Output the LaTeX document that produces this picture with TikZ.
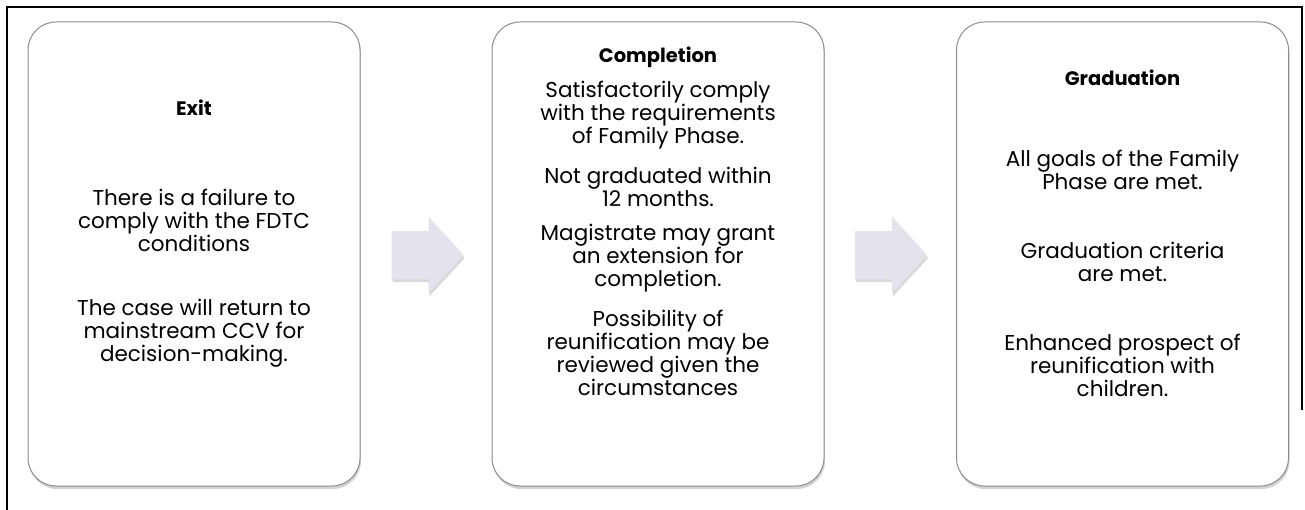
\documentclass[tikz,border=0pt]{standalone}
\usepackage{fontspec}
\setmainfont{Poppins}
\usetikzlibrary{shapes.arrows,shadows}

\definecolor{boxline}{HTML}{8C8C8C}
\definecolor{arrowfill}{HTML}{E4E2EC}

\begin{document}
\begin{tikzpicture}[x=1pt,y=-1pt,
  phasebox/.style={draw=boxline,line width=1pt,fill=white,rounded corners=28pt,
    minimum width=332pt,minimum height=464pt,inner sep=0pt,
    drop shadow={shadow xshift=1pt,shadow yshift=-3pt,opacity=0.35}},
  phasetitle/.style={font=\fontsize{19.5}{22}\selectfont\bfseries},
  phasetext/.style={font=\fontsize{21.5}{23}\selectfont,align=center},
  steparrow/.style={single arrow,fill=arrowfill,draw=none,inner xsep=0pt,
    inner ysep=24pt,minimum height=72pt,single arrow head extend=14pt,
    single arrow tip angle=95,
    drop shadow={shadow xshift=1pt,shadow yshift=-3pt,opacity=0.3}}]
\useasboundingbox (0,0) rectangle (1305,510);
\draw[line width=2pt] (7,510) -- (7,7) -- (1302,7) -- (1302,410);

\node[phasebox] (exit) at (194,254) {};
\node[phasebox] (completion) at (658,254) {};
\node[phasebox] (graduation) at (1122.5,254) {};

\node[steparrow] (arrowA) at (416.5,255) {};
\node[steparrow] (arrowB) at (880,255) {};

% Exit
\node[phasetitle] (exitT) at (194,108) {Exit};
\node[phasetext] (exitA) at (194,220) {There is a failure to\\comply with the FDTC\\conditions};
\node[phasetext] (exitB) at (194,333) {The case will return to\\mainstream CCV for\\decision-making.};

% Completion
\node[phasetitle] (complT) at (658,57) {Completion};
\node[phasetext] (complA) at (658,115) {Satisfactorily comply\\with the requirements\\of Family Phase.};
\node[phasetext] (complB) at (658,186.5) {Not graduated within\\12 months.};
\node[phasetext] (complC) at (658,258) {Magistrate may grant\\an extension for\\completion.};
\node[phasetext] (complD) at (658,352.5) {Possibility of\\reunification may be\\reviewed given the\\circumstances};

% Graduation
\node[phasetitle] (gradT) at (1122.5,78) {Graduation};
\node[phasetext] (gradA) at (1122.5,169.5) {All goals of the Family\\Phase are met.};
\node[phasetext] (gradB) at (1122.5,261.5) {Graduation criteria\\are met.};
\node[phasetext] (gradC) at (1122.5,365) {Enhanced prospect of\\reunification with\\children.};
\end{tikzpicture}
\end{document}
